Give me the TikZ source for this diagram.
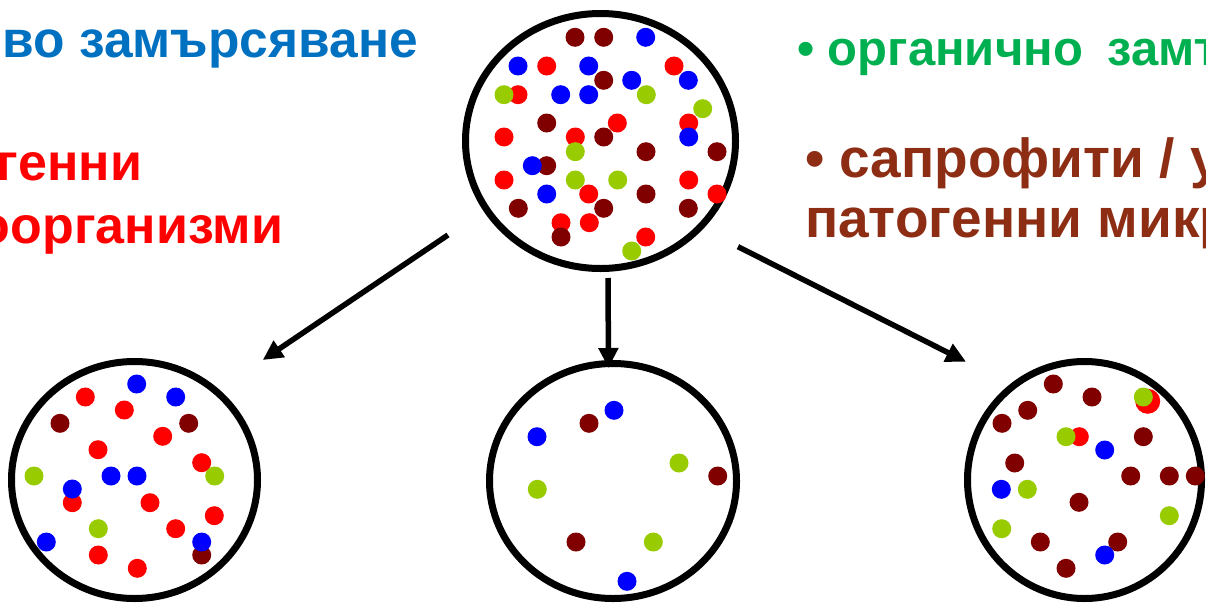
\documentclass[tikz,border=0pt]{standalone}
\usepackage{fontspec}
\setmainfont{Liberation Sans}
\usetikzlibrary{arrows.meta,shapes.geometric}
\definecolor{tblue}{HTML}{0070C0}
\definecolor{tred}{HTML}{FF0000}
\definecolor{tgreen}{HTML}{00B050}
\definecolor{tbrown}{RGB}{140,45,20}
\definecolor{dM}{HTML}{800000}
\definecolor{dR}{HTML}{FF0000}
\definecolor{dB}{HTML}{0000FF}
\definecolor{dG}{HTML}{99CC00}
\newcommand\mydot[3]{\fill[d#1] (#2,#3) circle[radius=9.5];}
\begin{document}
\begin{tikzpicture}[x=1pt,y=-1pt,
  dish/.style={draw=black, line width=7pt, ellipse, inner sep=0pt, outer sep=0pt},
  flow/.style={line width=5.5pt, -{Triangle[length=20pt,width=19pt]}},
  lbl/.style={inner sep=0pt, outer sep=0pt, font=\fontsize{50}{60}\selectfont\bfseries}]
\useasboundingbox (0,0) rectangle (1206,602);
\clip (0,0) rectangle (1206,602);
\fill[white] (0,0) rectangle (1206,602);

% texts
\node[lbl, text=tblue, anchor=base east, font=\fontsize{51.5}{60}\selectfont\bfseries] (t1) at (418,57) {во замърсяване};
\node[lbl, text=tred, anchor=base east, font=\fontsize{52}{60}\selectfont\bfseries] (t2) at (142,180) {генни};
\node[lbl, text=tred, anchor=base east, font=\fontsize{52}{60}\selectfont\bfseries] (t3) at (283,243) {оорганизми};
\node[lbl, text=tgreen, anchor=base west, font=\fontsize{49}{58}\selectfont\bfseries] (t4) at (797,65) {• органично\hspace{0.5em}замърсяване};
\node[lbl, text=tbrown, anchor=base west, font=\fontsize{55}{60}\selectfont\bfseries] (t5) at (805,177) {• сапрофити / условно};
\node[lbl, text=tbrown, anchor=base west, font=\fontsize{55}{60}\selectfont\bfseries] (t6) at (805,237) {патогенни микроорганизми};

% dishes
\node[dish, minimum width=270pt, minimum height=255pt] (top) at (600.5,141) {};
\node[dish, minimum width=246pt, minimum height=237pt] (bl) at (134.5,480) {};
\node[dish, minimum width=247pt, minimum height=235pt] (bm) at (613,481) {};
\node[dish, minimum width=234pt, minimum height=237pt] (br) at (1084.5,480) {};

% arrows
\coordinate (a1s) at (448,235);
\coordinate (a1e) at (262.7,360);
\coordinate (a2s) at (608,278);
\coordinate (a2e) at (608.5,368);
\coordinate (a3s) at (738,246.7);
\coordinate (a3e) at (966,361.7);
\draw[flow] (a1s) -- (a1e);
\draw[flow] (a2s) -- (a2e);
\draw[flow] (a3s) -- (a3e);

% top dish dots
\mydot{M}{575}{37.3}
\mydot{M}{603.7}{37.3}
\mydot{B}{645.7}{37.3}
\mydot{B}{518}{66}
\mydot{R}{546.7}{66}
\mydot{B}{588.7}{66}
\mydot{R}{674}{66}
\mydot{M}{603.7}{80.3}
\mydot{B}{631.7}{80.3}
\mydot{B}{688.3}{80.3}
\mydot{R}{518}{94.7}
\mydot{G}{504}{94.7}
\mydot{B}{560.7}{94.7}
\mydot{B}{588.7}{94.7}
\mydot{G}{646.3}{94.7}
\mydot{G}{702.7}{108.7}
\mydot{M}{546.7}{123}
\mydot{R}{617.3}{123}
\mydot{R}{688.7}{123}
\mydot{R}{504}{137}
\mydot{R}{575.3}{137}
\mydot{M}{603.7}{137}
\mydot{B}{688.7}{137}
\mydot{G}{575.3}{151.7}
\mydot{M}{646}{151.7}
\mydot{M}{717}{151.7}
\mydot{M}{546.7}{165.7}
\mydot{B}{532.3}{165.7}
\mydot{R}{504}{180}
\mydot{G}{575.3}{180}
\mydot{G}{617.7}{180}
\mydot{R}{688.7}{180}
\mydot{B}{546.7}{194}
\mydot{R}{588.7}{194}
\mydot{M}{646}{194}
\mydot{R}{717}{194}
\mydot{M}{518.3}{208.3}
\mydot{M}{603.7}{208.3}
\mydot{M}{688.3}{208.3}
\mydot{R}{561}{222.7}
\mydot{R}{589.3}{222.7}
\mydot{M}{561}{237}
\mydot{R}{645.7}{237}
\mydot{G}{631.7}{251}

% bottom-left dots
\mydot{B}{136.7}{384}
\mydot{R}{85.3}{397}
\mydot{B}{175.7}{397}
\mydot{R}{124.3}{410}
\mydot{M}{60}{423.3}
\mydot{M}{188.7}{423.3}
\mydot{R}{162.7}{436.3}
\mydot{R}{98}{449.7}
\mydot{R}{201.7}{462.7}
\mydot{G}{34}{476}
\mydot{B}{111}{476}
\mydot{B}{137}{476}
\mydot{G}{214.7}{476}
\mydot{R}{72.3}{502.7}
\mydot{B}{72.3}{489}
\mydot{R}{150}{502.7}
\mydot{R}{214.3}{515.7}
\mydot{G}{98.3}{528.7}
\mydot{R}{175.7}{528.7}
\mydot{B}{46.3}{542}
\mydot{M}{201.7}{555}
\mydot{B}{201.7}{542}
\mydot{R}{98.3}{555}
\mydot{R}{137.3}{568.3}

% bottom-middle dots
\mydot{B}{614}{410.3}
\mydot{M}{589}{423.3}
\mydot{B}{537}{436.7}
\mydot{G}{679}{463}
\mydot{M}{717.7}{476}
\mydot{G}{537.3}{489.3}
\mydot{M}{576}{542}
\mydot{G}{653.3}{542}
\mydot{B}{627}{581.3}

% bottom-right dots
\mydot{M}{1053.3}{384}
\mydot{M}{1092}{397}
\fill[dR] (1147.7,401.3) circle[radius=12.5];
\mydot{G}{1143.3}{397}
\mydot{M}{1027.7}{410.3}
\mydot{M}{1002}{423.3}
\mydot{R}{1079.3}{436.7}
\mydot{G}{1066}{436.7}
\mydot{M}{1143.3}{436.7}
\mydot{B}{1104.7}{450}
\mydot{M}{1014.7}{463}
\mydot{M}{1130.7}{476}
\mydot{M}{1169.3}{476}
\mydot{M}{1195.3}{476}
\mydot{B}{1001.3}{489.3}
\mydot{G}{1027.3}{489.3}
\mydot{M}{1079}{502.3}
\mydot{G}{1169.3}{515.7}
\mydot{G}{1001.7}{528.7}
\mydot{M}{1040.3}{542}
\mydot{M}{1117.7}{542}
\mydot{B}{1104.7}{555}
\mydot{M}{1066}{568.3}
\end{tikzpicture}
\end{document}
